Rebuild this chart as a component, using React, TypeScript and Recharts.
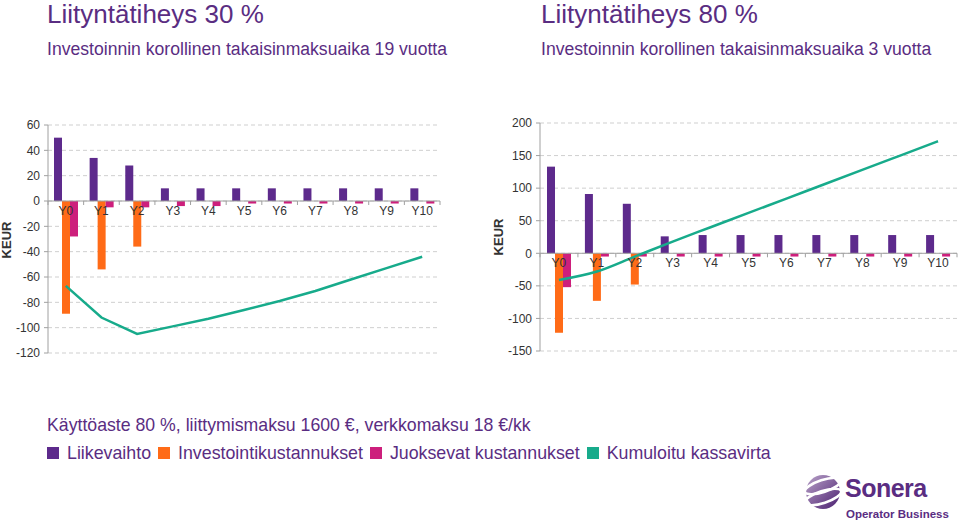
import {
  Bar,
  CartesianGrid,
  ComposedChart,
  Line,
  ReferenceDot,
  ReferenceLine,
  XAxis,
  YAxis,
} from "recharts";

const categories = ["Y0", "Y1", "Y2", "Y3", "Y4", "Y5", "Y6", "Y7", "Y8", "Y9", "Y10"];

// Liityntätiheys 30 %
const revenue30 = [50, 34, 28, 10, 10, 10, 10, 10, 10, 10, 10];
const invest30 = [-89, -54, -36, 0, 0, 0, 0, 0, 0, 0, 0];
const running30 = [-28, -5, -5, -4, -4, -2, -2, -2, -2, -2, -2];
const cumulative30 = [-67, -92, -105, -99, -93, -86, -79, -71, -62, -53, -44];
const ticks30 = [60, 40, 20, 0, -20, -40, -60, -80, -100, -120];

// Liityntätiheys 80 %
const revenue80 = [133, 91, 76, 26, 28, 28, 28, 28, 28, 28, 28];
const invest80 = [-122, -73, -48, 0, 0, 0, 0, 0, 0, 0, 0];
const running80 = [-52, -5, -5, -5, -5, -5, -5, -5, -5, -5, -5];
const cumulative80 = [-41, -28, -5, 18, 40, 62, 84, 106, 128, 150, 172];
const ticks80 = [200, 150, 100, 50, 0, -50, -100, -150];

const seriesNames = ["Liikevaihto", "Investointikustannukset", "Juoksevat kustannukset", "Kumuloitu kassavirta"];
const seriesColors = ["#5d2a8c", "#ff6b17", "#cd1f7c", "#17ab8b"];

const titleColor = "#5a2d82";
const axisColor = "#a0a0a0";
const font = "'Liberation Sans', Arial, sans-serif";

function buildRows(rev: number[], inv: number[], run: number[], cum: number[]) {
  return categories.map((cat, i) => ({
    cat,
    revenue: rev[i],
    invest: inv[i],
    running: run[i],
    cumulative: cum[i],
  }));
}

// zero line with small tick marks at the category borders
function ZeroAxis(props: any) {
  const { x1, x2, y1 } = props;
  const step = (x2 - x1) / categories.length;
  const marks = [];
  for (let i = 0; i <= categories.length; i++) {
    const x = x1 + i * step;
    marks.push(<line key={i} x1={x} x2={x} y1={y1} y2={y1 + 4} stroke={axisColor} strokeWidth={1} />);
  }
  return (
    <g>
      <line x1={x1} x2={x2} y1={y1} y2={y1} stroke={axisColor} strokeWidth={1} />
      {marks}
    </g>
  );
}

function CashChart({
  data,
  ticks,
  width,
  height,
  margin,
  yWidth,
  lineType,
}: {
  data: any[];
  ticks: number[];
  width: number;
  height: number;
  margin: { top: number; right: number; bottom: number; left: number };
  yWidth: number;
  lineType: "linear" | "monotone";
}) {
  return (
    <ComposedChart width={width} height={height} data={data} margin={margin} barGap={0} barSize={8}>
      <CartesianGrid vertical={false} stroke="#cfcfcf" strokeDasharray="4 3" />
      <XAxis dataKey="cat" hide />
      <YAxis
        domain={[ticks[ticks.length - 1], ticks[0]]}
        ticks={ticks}
        interval={0}
        width={yWidth}
        tick={{ fontSize: 12, fill: "#333", fontFamily: font }}
        tickSize={4}
        tickMargin={4}
        axisLine={{ stroke: axisColor }}
        tickLine={{ stroke: axisColor }}
      />
      <Bar dataKey="revenue" fill={seriesColors[0]} isAnimationActive={false} />
      <Bar dataKey="invest" fill={seriesColors[1]} isAnimationActive={false} />
      <Bar dataKey="running" fill={seriesColors[2]} isAnimationActive={false} />
      <ReferenceLine y={0} shape={ZeroAxis} />
      {categories.map((cat) => (
        <ReferenceDot
          key={cat}
          x={cat}
          y={0}
          r={0}
          stroke="none"
          fill="none"
          label={{ value: cat, position: "bottom", offset: 5, fontSize: 12, fill: "#333", fontFamily: font }}
        />
      ))}
      <Line
        type={lineType}
        dataKey="cumulative"
        stroke={seriesColors[3]}
        strokeWidth={2.5}
        dot={false}
        isAnimationActive={false}
      />
    </ComposedChart>
  );
}

function SoneraLogo() {
  return (
    <div style={{ position: "absolute", left: 803, top: 468, width: 150, height: 56 }}>
      <svg width={40} height={44} style={{ position: "absolute", left: 0, top: 2 }}>
        <defs>
          <linearGradient id="sg" x1="0" y1="0" x2="1" y2="1">
            <stop offset="0" stopColor="#b9a3c9" />
            <stop offset="1" stopColor="#4b1f70" />
          </linearGradient>
        </defs>
        <circle cx={20} cy={22} r={17} fill="url(#sg)" />
        <ellipse cx={20} cy={16} rx={19} ry={6} fill="none" stroke="#fff" strokeWidth={2.5} transform="rotate(-18 20 16)" />
        <ellipse cx={20} cy={27} rx={19} ry={6} fill="none" stroke="#fff" strokeWidth={2.5} transform="rotate(-18 20 27)" />
      </svg>
      <div
        style={{
          position: "absolute",
          left: 42,
          top: 8,
          fontFamily: font,
          fontWeight: "bold",
          fontSize: 25,
          lineHeight: "25px",
          color: "#5a2d82",
          letterSpacing: -0.5,
        }}
      >
        Sonera
      </div>
      <div
        style={{
          position: "absolute",
          left: 43,
          top: 40,
          fontFamily: font,
          fontWeight: "bold",
          fontSize: 11.5,
          lineHeight: "12px",
          color: "#5a2d82",
          whiteSpace: "nowrap",
        }}
      >
        Operator Business
      </div>
    </div>
  );
}

export default function App() {
  const data30 = buildRows(revenue30, invest30, running30, cumulative30);
  const data80 = buildRows(revenue80, invest80, running80, cumulative80);

  const text = (left: number, top: number, size: number, value: string) => (
    <div
      style={{
        position: "absolute",
        left,
        top,
        fontSize: size,
        lineHeight: `${Math.round(size)}px`,
        color: titleColor,
        whiteSpace: "nowrap",
      }}
    >
      {value}
    </div>
  );

  const keur = (cx: number, cy: number) => (
    <div
      style={{
        position: "absolute",
        left: cx - 20,
        top: cy - 7,
        width: 40,
        textAlign: "center",
        fontSize: 13,
        fontWeight: "bold",
        lineHeight: "14px",
        color: "#333",
        transform: "rotate(-90deg)",
      }}
    >
      KEUR
    </div>
  );

  return (
    <div
      style={{
        position: "absolute",
        left: 0,
        top: 0,
        width: 959,
        height: 525,
        background: "#fff",
        fontFamily: font,
        overflow: "hidden",
      }}
    >
      {text(47, 1, 26, "Liityntätiheys 30 %")}
      {text(47, 40, 17.6, "Investoinnin korollinen takaisinmaksuaika 19 vuotta")}
      {text(541, 1, 26, "Liityntätiheys 80 %")}
      {text(541, 40, 17.6, "Investoinnin korollinen takaisinmaksuaika 3 vuotta")}

      <div style={{ position: "absolute", left: 0, top: 110 }}>
        <CashChart
          data={data30}
          ticks={ticks30}
          width={450}
          height={260}
          margin={{ top: 15, right: 10, bottom: 17, left: 0 }}
          yWidth={48}
          lineType="linear"
        />
      </div>
      <div style={{ position: "absolute", left: 490, top: 110 }}>
        <CashChart
          data={data80}
          ticks={ticks80}
          width={469}
          height={260}
          margin={{ top: 13, right: 2, bottom: 19, left: 0 }}
          yWidth={50}
          lineType="monotone"
        />
      </div>
      {keur(7, 240)}
      {keur(499, 237)}

      {text(47, 416, 17.7, "Käyttöaste 80 %, liittymismaksu 1600 €, verkkomaksu 18 €/kk")}

      <div style={{ position: "absolute", left: 47, top: 444, display: "flex", alignItems: "center" }}>
        {seriesNames.map((name, i) => (
          <div key={name} style={{ display: "flex", alignItems: "center", marginRight: 7 }}>
            <span style={{ width: 12, height: 12, background: seriesColors[i], display: "inline-block", marginRight: 8 }} />
            <span style={{ fontSize: 17.8, lineHeight: "18px", color: titleColor, whiteSpace: "nowrap" }}>{name}</span>
          </div>
        ))}
      </div>

      <SoneraLogo />
    </div>
  );
}
